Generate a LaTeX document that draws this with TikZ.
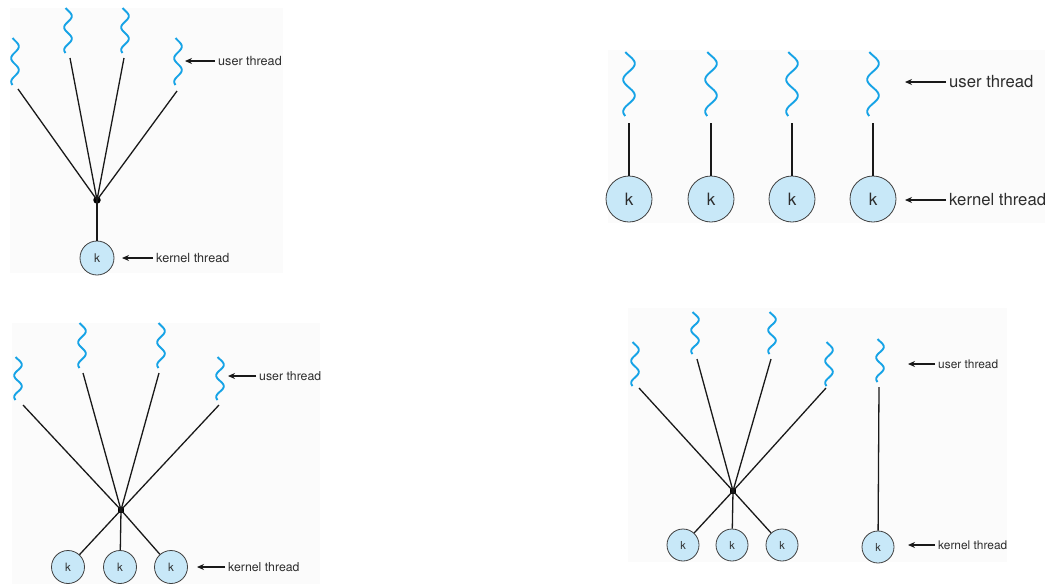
\documentclass[tikz,border=0pt]{standalone}
\usepackage{fontspec}
\setmainfont{TeX Gyre Heros}
\usetikzlibrary{arrows.meta}
\definecolor{sqblue}{RGB}{22,163,230}
\definecolor{kfill}{RGB}{200,232,248}
\definecolor{txt}{RGB}{45,45,45}
\definecolor{panelbg}{RGB}{251,251,251}
\newcommand{\uthr}[4]{\draw[sq] plot[domain=0:1,samples=60,smooth] ({#1+#4*sin(720*\x-40)},{#2+#3*\x});}
\begin{document}
\begin{tikzpicture}[x=1pt,y=-1pt,
  sq/.style={draw=sqblue,line width=1.9pt},
  ln/.style={draw=black!90,line width=1.3pt},
  kn/.style={circle,draw=black!75,line width=0.8pt,fill=kfill,inner sep=0pt,text=txt},
  jdot/.style={circle,fill=black,inner sep=0pt,minimum size=7.5pt},
  jsq/.style={rectangle,fill=black,inner sep=0pt,minimum size=6pt},
  lbl/.style={anchor=west,inner xsep=3pt,inner ysep=1pt,text=txt},
  arr/.style={draw=black!90,line width=1.1pt,-{Stealth[length=7pt,width=6pt]}}]
\useasboundingbox (0,0) rectangle (1053,584);
% panel backgrounds
\fill[panelbg] (10,8) rectangle (283,273);
\fill[panelbg] (608,50) rectangle (1045,223);
\fill[panelbg] (12,323) rectangle (320,584);
\fill[panelbg] (628,308) rectangle (1007,562);

% ---------------- Panel 1: many-to-one
\uthr{15}{38}{47}{3.8}
\uthr{68}{8}{45}{3.8}
\uthr{125}{8}{45}{3.8}
\uthr{178}{38}{47}{3.8}
\coordinate (p1a) at (18,89);
\coordinate (p1b) at (70,58);
\coordinate (p1c) at (124,58);
\coordinate (p1d) at (177,91);
\node[jdot] (j1) at (97,200) {};
\node[kn,minimum size=34pt,font=\fontsize{12}{14}\selectfont] (k1) at (97,258) {k};
\foreach \c in {p1a,p1b,p1c,p1d} \draw[ln] (\c) -- (j1.center);
\draw[ln] (j1.center) -- (k1);
\node[lbl,font=\fontsize{12.6}{15}\selectfont] (u1) at (215,61) {user thread};
\node[lbl,font=\fontsize{12.6}{15}\selectfont] (kt1) at (153,258) {kernel thread};
\coordinate (u1h) at (185,61);
\coordinate (kt1h) at (122,258);
\draw[arr] (u1.west) -- (u1h);
\draw[arr] (kt1.west) -- (kt1h);

% ---------------- Panel 2: one-to-one
\foreach \i/\xx in {1/629,2/711,3/792,4/873}{
  \uthr{\xx}{52}{64}{5.8}
  \coordinate (t2\i) at (\xx,123);
  \node[kn,minimum size=46pt,font=\fontsize{17}{20}\selectfont] (k2\i) at (\xx,199) {k};
  \draw[ln] (t2\i) -- (k2\i);
}
\node[lbl,font=\fontsize{16.7}{20}\selectfont] (u2) at (946,82) {user thread};
\node[lbl,font=\fontsize{16.7}{20}\selectfont] (kt2) at (946,200) {kernel thread};
\coordinate (u2h) at (905,82);
\coordinate (kt2h) at (905,200);
\draw[arr] (u2.west) -- (u2h);
\draw[arr] (kt2.west) -- (kt2h);

% ---------------- Panel 3: many-to-many
\uthr{18}{357}{43}{3.8}
\uthr{82}{323}{45}{3.8}
\uthr{161}{323}{45}{3.8}
\uthr{220}{357}{43}{3.8}
\coordinate (p3a) at (23,405);
\coordinate (p3b) at (83,373);
\coordinate (p3c) at (159,373);
\coordinate (p3d) at (219,405);
\node[jsq] (j3) at (121,510) {};
\foreach \c in {p3a,p3b,p3c,p3d} \draw[ln] (\c) -- (j3.center);
\foreach \i/\xx in {1/68,2/120,3/171}{
  \node[kn,minimum size=33pt,font=\fontsize{11.5}{14}\selectfont] (k3\i) at (\xx,567) {k};
  \draw[ln] (j3.center) -- (k3\i);
}
\node[lbl,font=\fontsize{12.3}{15}\selectfont] (u3) at (256,376) {user thread};
\node[lbl,font=\fontsize{12.3}{15}\selectfont] (kt3) at (225,567) {kernel thread};
\coordinate (u3h) at (228,376);
\coordinate (kt3h) at (197,567);
\draw[arr] (u3.west) -- (u3h);
\draw[arr] (kt3.west) -- (kt3h);

% ---------------- Panel 4: two-level
\uthr{635}{342}{44}{3.8}
\uthr{695}{312}{42}{3.8}
\uthr{772}{312}{42}{3.8}
\uthr{829}{342}{44}{3.8}
\uthr{880}{339}{43}{3.8}
\coordinate (p4a) at (639,388);
\coordinate (p4b) at (697,359);
\coordinate (p4c) at (771,359);
\coordinate (p4d) at (826,388);
\coordinate (p4e) at (879,387);
\node[jsq] (j4) at (733,491) {};
\foreach \c in {p4a,p4b,p4c,p4d} \draw[ln] (\c) -- (j4.center);
\foreach \i/\xx in {1/683,2/732,3/782}{
  \node[kn,minimum size=32pt,font=\fontsize{11}{13}\selectfont] (k4\i) at (\xx,545) {k};
  \draw[ln] (j4.center) -- (k4\i);
}
\node[kn,minimum size=32pt,font=\fontsize{11}{13}\selectfont] (k44) at (878,547) {k};
\draw[ln] (p4e) -- (k44);
\node[lbl,font=\fontsize{11.9}{14}\selectfont] (u4) at (935,364) {user thread};
\node[lbl,font=\fontsize{11.9}{14}\selectfont] (kt4) at (935,545) {kernel thread};
\coordinate (u4h) at (908,364);
\coordinate (kt4h) at (908,545);
\draw[arr] (u4.west) -- (u4h);
\draw[arr] (kt4.west) -- (kt4h);
\end{tikzpicture}
\end{document}
